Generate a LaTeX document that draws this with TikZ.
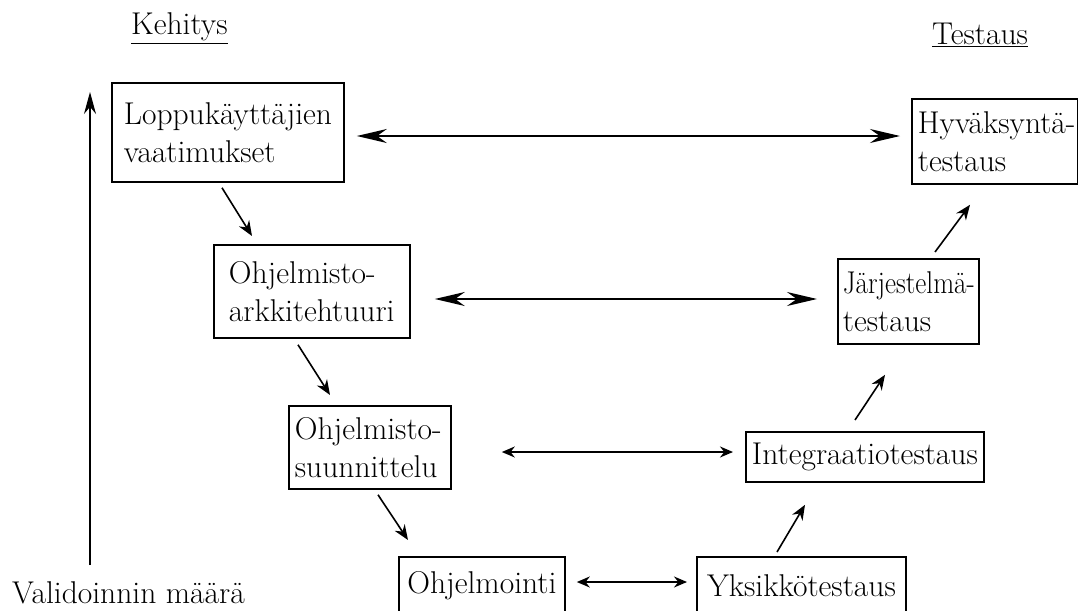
\documentclass[tikz,border=0pt]{standalone}
\usepackage{graphicx}
\usetikzlibrary{arrows.meta}
\begin{document}
\begin{tikzpicture}[x=1pt,y=-1pt,
  box/.style={draw, line width=1.8pt, anchor=north west, inner ysep=0pt, align=left,
    font=\fontsize{31.5}{38}\selectfont},
  lbl/.style={anchor=base west, inner sep=0pt, font=\fontsize{31.5}{38}\selectfont},
  bigarr/.style={line width=1.8pt, {Stealth[length=30pt,width=14pt]}-{Stealth[length=30pt,width=14pt]}},
  smallarr/.style={line width=1.6pt, {Stealth[length=13pt,width=11pt]}-{Stealth[length=13pt,width=11pt]}},
  diag/.style={line width=1.6pt, -{Stealth[length=15pt,width=12pt]}}]
\useasboundingbox (0,0) rectangle (1078,610);
% boxes
\node[box, minimum width=232pt, minimum height=99pt, inner xsep=12pt, text width=208pt] (loppu) at (111,82) {\mbox{Loppukäyttäjien}\\\mbox{vaatimukset}};
\node[box, minimum width=166pt, minimum height=85pt, inner xsep=6pt, text width=154pt] (hyv) at (911,98) {\mbox{Hyväksyntä-}\\\mbox{testaus}};
\node[box, minimum width=196pt, minimum height=93pt, inner xsep=15pt, text width=166pt] (ark) at (213,244) {\mbox{Ohjelmisto-}\\\mbox{arkkitehtuuri}};
\node[box, minimum width=141pt, minimum height=85pt, inner xsep=5pt, text width=131pt] (jar) at (837,258) {\scalebox{0.86}[1]{Järjestelmä-}\\\mbox{testaus}};
\node[box, minimum width=162pt, minimum height=83pt, inner xsep=6pt, text width=150pt] (suun) at (288,405) {\mbox{Ohjelmisto-}\\\mbox{suunnittelu}};
\node[box, minimum width=238pt, minimum height=50pt, inner xsep=5pt, text width=228pt, align=center] (integ) at (745,431) {\mbox{Integraatiotestaus}};
\node[box, minimum width=166pt, minimum height=58pt, inner xsep=8pt, text width=150pt, align=center] (ohj) at (398,556) {\mbox{Ohjelmointi}};
\node[box, minimum width=209pt, minimum height=58pt, inner xsep=8pt, text width=193pt, align=center] (yks) at (696,556) {\mbox{Yksikkötestaus}};
% labels
\node[lbl] (keh) at (131,35) {\underline{Kehitys}};
\node[lbl] (tes) at (932,45) {\underline{Testaus}};
\node[lbl] (val) at (12,603) {Validoinnin määrä};
% validation arrow
\coordinate (vbot) at (90,565);
\coordinate (vtop) at (90,92);
\draw[line width=1.6pt, -{Stealth[length=22pt,width=12pt]}] (vbot) -- (vtop);
% horizontal double arrows
\draw[bigarr, shorten <=12pt, shorten >=11pt] (loppu.east |- 0,136) -- (hyv.west |- 0,136);
\draw[bigarr, line width=1.6pt, shorten <=24pt, shorten >=20pt] (ark.east |- 0,299) -- (jar.west |- 0,299);
\draw[smallarr, shorten <=50pt, shorten >=12pt] (suun.east |- 0,452) -- (integ.west |- 0,452);
\draw[smallarr, shorten <=11pt, shorten >=9pt] (ohj.east |- 0,582) -- (yks.west |- 0,582);
% diagonal arrows
\draw[diag] ([xshift=111pt,yshift=-5pt]loppu.south west) -- ([xshift=39pt,yshift=8pt]ark.north west);
\draw[diag] ([xshift=85pt,yshift=-6pt]ark.south west) -- ([xshift=42pt,yshift=10pt]suun.north west);
\draw[diag] ([xshift=90pt,yshift=-5pt]suun.south west) -- ([xshift=10pt,yshift=16pt]ohj.north west);
\draw[diag] ([xshift=81pt,yshift=4pt]yks.north west) -- ([xshift=60pt,yshift=-22pt]integ.south west);
\draw[diag] ([xshift=110pt,yshift=11pt]integ.north west) -- ([xshift=48pt,yshift=-30pt]jar.south west);
\draw[diag] ([xshift=98pt,yshift=6pt]jar.north west) -- ([xshift=59pt,yshift=-20pt]hyv.south west);
\end{tikzpicture}
\end{document}
